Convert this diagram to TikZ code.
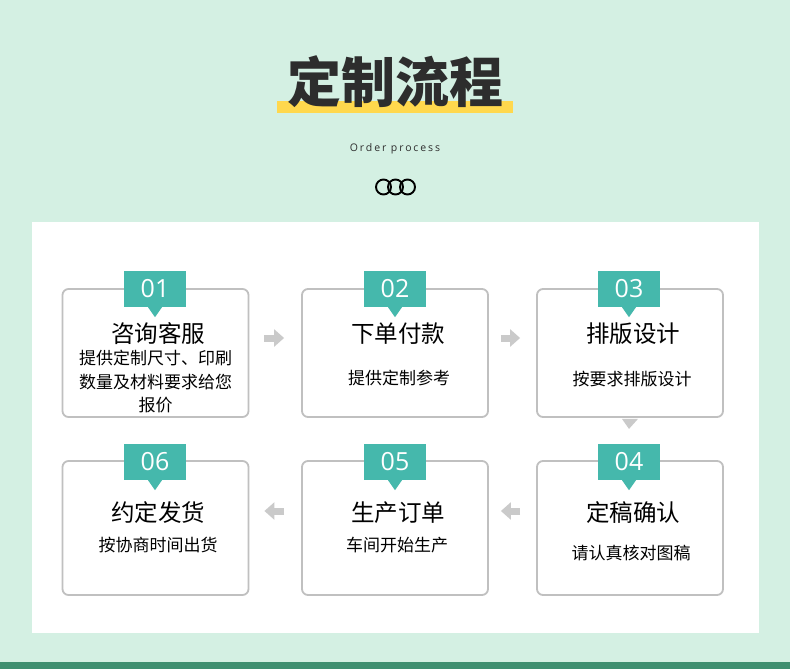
\documentclass[tikz,border=0pt]{standalone}
\usepackage{fontspec}
\setmainfont{Noto Sans CJK SC}
\newfontfamily\latinfont{Open Sans}
\usetikzlibrary{arrows.meta}
\definecolor{bgmint}{RGB}{212,240,227}
\definecolor{stripgreen}{RGB}{63,143,112}
\definecolor{tabteal}{RGB}{69,184,172}
\definecolor{baryellow}{RGB}{255,216,77}
\definecolor{edgegray}{RGB}{192,192,192}
\definecolor{arrowgray}{RGB}{202,202,202}
\definecolor{inkdark}{RGB}{45,45,45}

\begin{document}
\begin{tikzpicture}[x=1pt, y=-1pt,
    stepbox/.style={draw=edgegray, line width=1.8pt, rounded corners=6pt, fill=white, minimum width=186pt, inner sep=0pt},
    numtab/.style={fill=tabteal, text=white, minimum width=62pt, minimum height=36pt, inner sep=0pt, font=\latinfont\fontsize{25}{25}\selectfont},
    steptitle/.style={text=black, inner sep=0pt, font=\fontsize{23.5}{26}\selectfont},
    stepnote/.style={text=black, inner sep=0pt, align=center, font=\fontsize{17}{23.5}\selectfont},
    flowarrow/.style={draw=arrowgray, line width=7pt, -{Triangle[length=10pt,width=17pt]}}
]
    % background, panel and strip
    \fill[bgmint] (0,0) rectangle (790,669);
    \fill[white] (32,222) rectangle (759,633);
    \fill[stripgreen] (0,662) rectangle (790,669);
    \useasboundingbox (0,0) rectangle (790,669);

    % heading
    \fill[baryellow] (277,101) rectangle (513,113);
    \node[text=inkdark, inner sep=0pt, font=\bfseries\fontsize{54}{54}\selectfont] (head) at (395,82) {定制流程};
    \node[text=inkdark, inner sep=0pt, font=\latinfont\fontsize{10.5}{12}\selectfont\addfontfeatures{LetterSpace=18}] (sub) at (395,149) {Order process};
    \foreach \cx in {383.5,395.5,407.5}
        \draw[black, line width=1.9pt] (\cx,187) circle (7.5);

    % row 1
    \node[stepbox, minimum height=128pt] (b1) at (155.5,353) {};
    \node[stepbox, minimum height=128pt] (b2) at (395,353) {};
    \node[stepbox, minimum height=128pt] (b3) at (630,353) {};
    % row 2
    \node[stepbox, minimum height=134pt] (b4) at (630,528) {};
    \node[stepbox, minimum height=134pt] (b5) at (395,528) {};
    \node[stepbox, minimum height=134pt] (b6) at (155.5,528) {};

    % number tabs
    \node[numtab] (t1) at (155,289) {01};
    \node[numtab] (t2) at (395,289) {02};
    \node[numtab] (t3) at (629,289) {03};
    \node[numtab] (t4) at (629,462) {04};
    \node[numtab] (t5) at (395,462) {05};
    \node[numtab] (t6) at (155,462) {06};
    \foreach \t in {t1,t2,t3,t4,t5,t6}
        \fill[tabteal] ([xshift=-7pt]\t.south) -- ([xshift=7pt]\t.south) -- ([yshift=-10pt]\t.south) -- cycle;

    % texts
    \node[steptitle] (s1) at (158,334) {咨询客服};
    \node[stepnote] (n1) at (155.5,382) {提供定制尺寸、印刷\\数量及材料要求给您\\报价};
    \node[steptitle] (s2) at (398,334) {下单付款};
    \node[stepnote] (n2) at (399,378) {提供定制参考};
    \node[steptitle] (s3) at (633,334) {排版设计};
    \node[stepnote] (n3) at (632,379) {按要求排版设计};
    \node[steptitle] (s4) at (633,513) {定稿确认};
    \node[stepnote] (n4) at (631,553) {请认真核对图稿};
    \node[steptitle] (s5) at (398,513) {生产订单};
    \node[stepnote] (n5) at (397,545) {车间开始生产};
    \node[steptitle] (s6) at (158,513) {约定发货};
    \node[stepnote] (n6) at (158,545) {按协商时间出货};

    % connectors
    \draw[flowarrow, shorten <=15pt, shorten >=17pt] ([yshift=15pt]b1.east) -- ([yshift=15pt]b2.west);
    \draw[flowarrow, shorten <=12pt, shorten >=16pt] ([yshift=15pt]b2.east) -- ([yshift=15pt]b3.west);
    \fill[arrowgray] ([xshift=-8pt,yshift=-1pt]b3.south) -- ([xshift=8pt,yshift=-1pt]b3.south) -- ([xshift=-1pt,yshift=-11pt]b3.south) -- cycle;
    \draw[flowarrow, shorten <=16pt, shorten >=12pt] ([yshift=17pt]b4.west) -- ([yshift=17pt]b5.east);
    \draw[flowarrow, shorten <=17pt, shorten >=15pt] ([yshift=17pt]b5.west) -- ([yshift=17pt]b6.east);
\end{tikzpicture}
\end{document}
